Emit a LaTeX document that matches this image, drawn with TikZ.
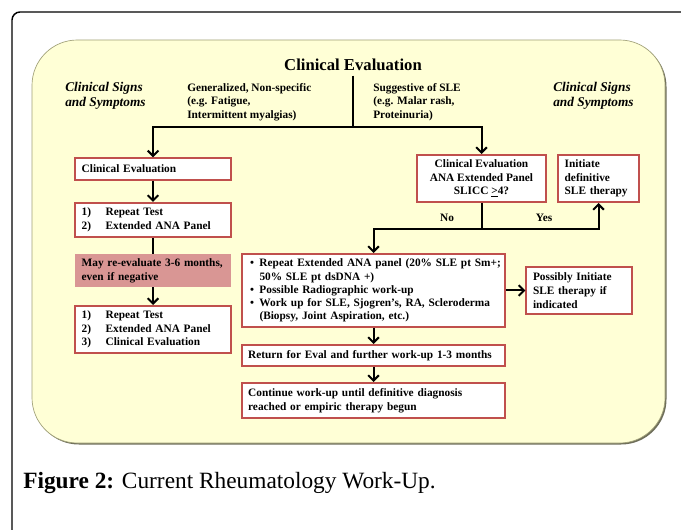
\documentclass[tikz,border=0pt]{standalone}
\usepackage{fontspec}
\setmainfont{Liberation Serif}
\usetikzlibrary{arrows.meta}
\usetikzlibrary{positioning}
\definecolor{boxred}{RGB}{192,80,77}
\definecolor{waitpink}{RGB}{217,150,148}
\definecolor{panelfill}{RGB}{255,255,214}
\definecolor{paneledge}{RGB}{160,160,120}
\definecolor{panelshade}{RGB}{110,110,90}
\newcommand{\boxfont}{\bfseries\fontsize{8.5}{10.3}\selectfont}
\newcommand{\num}[1]{\makebox[18pt][l]{#1}}
\newcommand{\bul}{\makebox[10pt][l]{\hspace{3pt}\textbullet}}
\tikzset {
  conn path/.style = {
    draw = black,
    line width = 1.5pt
  },
  % path style with an arrow at the end
  arr/.style = {
    conn path,
    -{Straight Barb[length = 4pt, width = 8pt, line width = 1.5pt]}
  },
  % path style with no arrows
  narr/.style = {
    conn path
  }
}
\tikzset {
  step node/.style = {
    draw = boxred,
    line width = 1.5pt,
    fill = white,
    inner ysep = 0pt,
    font = \boxfont
  },
  % white box, text on the left
  stepbox/.style = {
    step node,
    align = left,
    inner xsep = 5pt
  },
  % wide white box under the decision
  widebox/.style = {
    stepbox,
    inner xsep = 3pt,
    text width = 191pt
  },
  % white box, centred text
  centrebox/.style = {
    step node,
    align = center
  },
  % shaded note between two boxes
  waitbox/.style = {
    fill = waitpink,
    align = left,
    inner xsep = 5pt,
    inner ysep = 0pt,
    minimum height = 24.75pt,
    text width = 107pt,
    font = \boxfont
  },
  % free text above the chart
  header/.style = {
    align = left,
    inner sep = 0pt,
    font = \bfseries\fontsize{8.5}{10.1}\selectfont
  },
  signs/.style = {
    align = left,
    inner sep = 0pt,
    font = \bfseries\itshape\fontsize{10}{11.2}\selectfont
  }
}

\begin{document}
\begin{tikzpicture}[x = 0.75pt, y = -0.75pt]
    \useasboundingbox (0,0) rectangle (681,530);

    % frame and panel
    \draw[line width = 1.1pt, rounded corners = 6pt] (12,530) -- (12,12) -- (681,12);
    \path[fill = panelshade, rounded corners = 34pt] (33.5,41.5) rectangle (666.5,444.5);
    \path[fill = panelfill, draw = paneledge, line width = 0.5pt, rounded corners = 34pt]
      (32,40) rectangle (665,443);

    % texts at the top
    \node[font = \bfseries\fontsize{12.5}{15}\selectfont] (title) at (353,65) {Clinical Evaluation};
    \node[signs, anchor = west] (signs-left) at (65,96) {Clinical Signs\\and Symptoms};
    \node[header, anchor = west] (general) at (187,102) {Generalized, Non-specific\\(e.g. Fatigue,\\Intermittent myalgias)};
    \node[header, anchor = west] (suggest) at (373,102) {Suggestive of SLE\\(e.g. Malar rash,\\Proteinuria)};
    \node[signs, anchor = west] (signs-right) at (553,96) {Clinical Signs\\and Symptoms};
    \coordinate (split) at (353,127);

    % left branch
    \node[stepbox, text width = 107pt, minimum height = 16pt] (eval-a) at (153,169) {Clinical Evaluation};
    \node[stepbox, text width = 107pt, minimum height = 25.5pt] (repeat-a) at (153,220)
      {\num{1)}Repeat Test\\\num{2)}Extended ANA Panel};
    \node[waitbox] (wait) at (153,270.5) {May re-evaluate 3-6 months,\\even if negative};
    \node[stepbox, text width = 107pt, minimum height = 35.25pt] (repeat-b) at (153,329.5)
      {\num{1)}Repeat Test\\\num{2)}Extended ANA Panel\\\num{3)}Clinical Evaluation};

    % right branch
    \node[centrebox, minimum width = 96.75pt, minimum height = 35.25pt] (slicc) at (481.5,178.5)
      {Clinical Evaluation\\ANA Extended Panel\\SLICC \underline{>}4?};
    \node[stepbox, text width = 50.75pt, minimum height = 35.25pt] (initiate) at (598.5,178.5)
      {Initiate\\definitive\\SLE therapy};
    \coordinate (fork) at (481.5,229);
    \node[header] (no) at (447,218) {No};
    \node[header] (yes) at (544,218) {Yes};
    \node[widebox, minimum height = 54.75pt, font = \bfseries\fontsize{8.5}{9.9}\selectfont] (workup) at (373.5,290.5)
      {\bul Repeat Extended ANA panel (20\% SLE pt Sm+;\\
       \hspace*{10pt}50\% SLE pt dsDNA +)\\
       \bul Possible Radiographic work-up\\
       \bul Work up for SLE, Sjogren's, RA, Scleroderma\\
       \hspace*{10pt}(Biopsy, Joint Aspiration, etc.)};
    \node[stepbox, text width = 69pt, minimum height = 35.25pt] (possibly) at (579,290.5)
      {Possibly Initiate\\SLE therapy if\\indicated};
    \node[widebox, minimum height = 15.75pt] (return) at (373.5,355.5)
      {\hspace*{1.5pt}Return for Eval and further work-up 1-3 months};
    \node[widebox, minimum height = 26.25pt] (continue) at (373.5,400.5)
      {\hspace*{1.5pt}Continue work-up until definitive diagnosis\\
       \hspace*{1.5pt}reached or empiric therapy begun};

    % caption
    \node[anchor = base west, inner sep = 0pt, font = \fontsize{17.5}{20}\selectfont] (caption) at (23,488)
      {\textbf{Figure 2:} Current Rheumatology Work-Up.};

    % connectors
    \draw[narr] (title.south) -- (split);
    \draw[arr] (split) -| (eval-a.north);
    \draw[arr] (split) -| (slicc.north);

    \draw[arr] (eval-a) -- (repeat-a);
    \draw[narr] (repeat-a) -- (wait);
    \draw[arr] (wait) -- (repeat-b);

    \draw[narr] (slicc) -- (fork);
    \draw[arr] (fork) -| (workup.north);
    \draw[arr] (fork) -| (initiate.south);
    \draw[arr] (workup) -- (possibly);
    \draw[arr] (workup) -- (return);
    \draw[arr] (return) -- (continue);
  \end{tikzpicture}
\end{document}
